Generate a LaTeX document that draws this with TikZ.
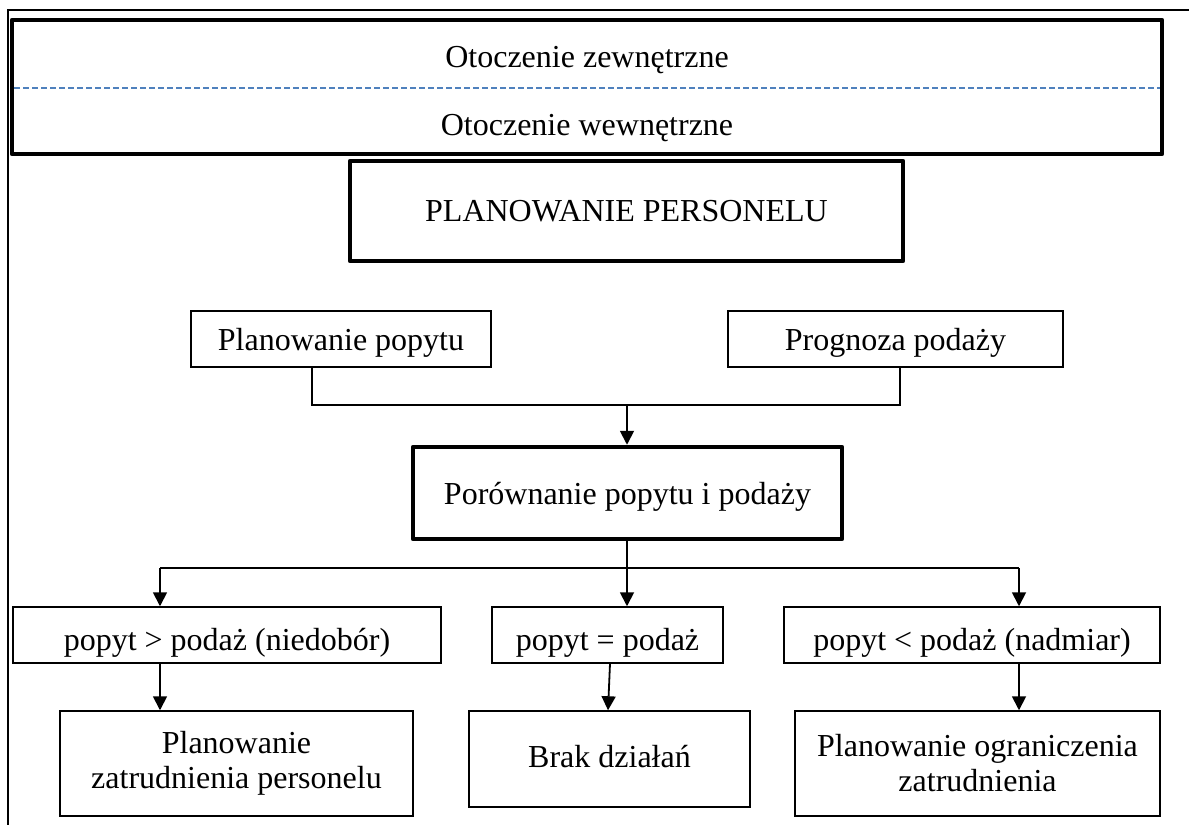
\documentclass[tikz,border=0pt]{standalone}
\usepackage{fontspec}
\setmainfont{Liberation Serif}
\usetikzlibrary{arrows.meta}
\definecolor{dashblue}{RGB}{79,129,189}
\begin{document}
\begin{tikzpicture}[x=1pt,y=-1pt,
  every node/.style={font=\fontsize{32}{35}\selectfont, inner sep=0pt, align=center},
  thinbox/.style={draw, line width=1.5pt, rectangle},
  thickbox/.style={draw, line width=4.5pt, line join=round, rectangle},
  lowtext/.style={text depth=6pt, text height=#1},
  conn/.style={line width=1.8pt},
  arr/.style={conn, -{Triangle[length=14pt,width=14pt]}}]
  \useasboundingbox (0,0) rectangle (1189,825);

  % page frame (top and left rules)
  \coordinate (frameTL) at (8,10);
  \coordinate (frameTR) at (1189,10);
  \coordinate (frameBL) at (8,825);
  \draw[line width=1.5pt] (frameTR) -- (frameTL) -- (frameBL);

  % environment box
  \node[thickbox, minimum width=1150pt, minimum height=134pt] (env) at (587,87) {};
  \coordinate (dashL) at (14,88);
  \coordinate (dashR) at (1160,88);
  \draw[dashblue, line width=1.6pt, dash pattern=on 6pt off 3pt] (dashL) -- (dashR);
  \node (ext) at (587,60) {Otoczenie zewnętrzne};
  \node (int) at (587,128) {Otoczenie wewnętrzne};

  % main title box
  \node[thickbox, minimum width=553pt, minimum height=100pt] (plan) at (626.5,211) {PLANOWANIE PERSONELU};

  % demand and supply
  \node[thinbox, lowtext=28pt, minimum width=300pt, minimum height=56pt] (demand) at (341,339) {Planowanie popytu};
  \node[thinbox, lowtext=28pt, minimum width=335pt, minimum height=56pt] (supply) at (895.5,339) {Prognoza podaży};

  % comparison
  \node[thickbox, lowtext=28pt, minimum width=429pt, minimum height=92pt] (compare) at (627.5,493) {Porównanie popytu i podaży};

  % outcomes
  \node[thinbox, lowtext=36pt, minimum width=428pt, minimum height=56pt] (short) at (227,635) {popyt > podaż (niedobór)};
  \node[thinbox, lowtext=36pt, minimum width=231pt, minimum height=56pt] (equal) at (607.5,635) {popyt = podaż};
  \node[thinbox, lowtext=36pt, minimum width=376pt, minimum height=56pt] (excess) at (972,635) {popyt < podaż (nadmiar)};

  % actions
  \node[thinbox, minimum width=353pt, minimum height=105pt] (hire) at (236.5,763.5) {Planowanie\\zatrudnienia personelu};
  \node[thinbox, lowtext=22pt, minimum width=281pt, minimum height=96pt] (none) at (609.5,759) {Brak działań};
  \node[thinbox, minimum width=365pt, minimum height=105pt] (cut) at (977.5,763.5) {Planowanie ograniczenia\\zatrudnienia};

  % merge demand + supply into comparison
  \coordinate (jl) at (312,405);
  \coordinate (jm) at (627,405);
  \coordinate (jr) at (900,405);
  \draw[conn] (demand.south -| jl) -- (jl) -- (jr) -- (supply.south -| jr);
  \draw[arr] (jm) -- (compare.north -| jm);

  % split comparison into outcomes
  \coordinate (bl) at (160,568);
  \coordinate (bm) at (627,568);
  \coordinate (br) at (1019,568);
  \draw[conn] (compare.south -| bm) -- (bm);
  \draw[conn] (bl) -- (br);
  \draw[arr] (bl) -- (short.north -| bl);
  \draw[arr] (bm) -- (equal.north -| bm);
  \draw[arr] (br) -- (excess.north -| br);

  % outcomes to actions
  \draw[arr] (short.south -| bl) -- (hire.north -| bl);
  \draw[arr] ([xshift=2.5pt]equal.south) -- ([xshift=-1.5pt]none.north);
  \draw[arr] (excess.south -| br) -- (cut.north -| br);
\end{tikzpicture}
\end{document}
